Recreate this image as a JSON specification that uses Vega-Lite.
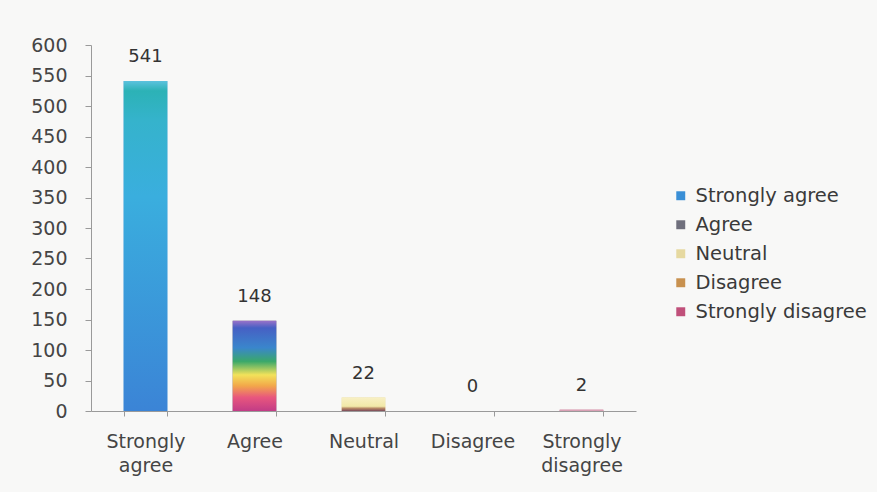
{
  "$schema": "https://vega.github.io/schema/vega-lite/v6.json",
  "width": 545,
  "height": 366,
  "autosize": {"type": "none"},
  "padding": {"left": 91, "top": 45, "right": 241, "bottom": 81},
  "background": "#f8f8f7",
  "config": {
    "view": {"stroke": null},
    "font": "DejaVu Sans",
    "axis": {"labelFont": "DejaVu Sans", "labelColor": "#454545", "labelFontSize": 19, "domainColor": "#9a9a9a", "tickColor": "#9a9a9a", "grid": false, "title": null},
    "legend": {"labelFont": "DejaVu Sans", "labelColor": "#3a3a3a", "labelFontSize": 19.5, "labelLimit": 300}
  },
  "data": {
    "values": [
      {"response": "Strongly agree", "count": 541},
      {"response": "Agree", "count": 148},
      {"response": "Neutral", "count": 22},
      {"response": "Disagree", "count": 0},
      {"response": "Strongly disagree", "count": 2}
    ]
  },
  "encoding": {
    "x": {
      "field": "response",
      "type": "nominal",
      "sort": null,
      "scale": {"paddingInner": 0.6, "paddingOuter": 0.3},
      "axis": {"labelAngle": 0, "labelExpr": "split(datum.label, ' ')", "labelLineHeight": 24, "labelPadding": 16, "tickBand": "extent", "tickSize": 5, "labelBaseline": "top"}
    },
    "y": {
      "field": "count",
      "type": "quantitative",
      "scale": {"domain": [0, 600]},
      "axis": {"values": [0, 50, 100, 150, 200, 250, 300, 350, 400, 450, 500, 550, 600], "tickSize": 6, "labelPadding": 18}
    }
  },
  "layer": [
    {
      "mark": {"type": "bar"},
      "encoding": {
        "color": {
          "field": "response",
          "type": "nominal",
          "sort": null,
          "scale": {"domain": ["Strongly agree", "Agree", "Neutral", "Disagree", "Strongly disagree"], "range": ["#3a8fd6", "#6f6f7c", "#e6d9a0", "#c8914f", "#c0507a"]},
          "legend": {"title": null, "orient": "none", "legendX": 580, "legendY": 141, "symbolType": "square", "symbolSize": 80, "symbolStrokeWidth": 0, "rowPadding": 8, "labelOffset": 5}
        }
      }
    },
    {
      "mark": {"type": "bar"},
      "encoding": {
        "fill": {
          "condition": [
            {"test": "datum.response === 'Strongly agree'", "value": {"gradient": "linear", "x1": 0, "y1": 0, "x2": 0, "y2": 1, "stops": [{"offset": 0, "color": "#5cc2de"}, {"offset": 0.03, "color": "#2cb2b6"}, {"offset": 0.12, "color": "#35b3cc"}, {"offset": 0.35, "color": "#3aaede"}, {"offset": 1, "color": "#3b84d6"}]}},
            {"test": "datum.response === 'Agree'", "value": {"gradient": "linear", "x1": 0, "y1": 0, "x2": 0, "y2": 1, "stops": [{"offset": 0, "color": "#9a72c8"}, {"offset": 0.08, "color": "#4660c4"}, {"offset": 0.3, "color": "#3a86cc"}, {"offset": 0.45, "color": "#3aa86a"}, {"offset": 0.6, "color": "#f2e25a"}, {"offset": 0.72, "color": "#f2a84a"}, {"offset": 0.85, "color": "#e8567e"}, {"offset": 1, "color": "#c23c86"}]}},
            {"test": "datum.response === 'Neutral'", "value": {"gradient": "linear", "x1": 0, "y1": 0, "x2": 0, "y2": 1, "stops": [{"offset": 0, "color": "#f8f0c4"}, {"offset": 0.65, "color": "#f1e8a8"}, {"offset": 0.8, "color": "#b88a66"}, {"offset": 1, "color": "#7c4a5a"}]}},
            {"test": "datum.response === 'Strongly disagree'", "value": "#d9a0b4"}
          ],
          "value": "#c8914f"
        }
      }
    },
    {
      "mark": {"type": "text", "baseline": "middle", "dy": -24, "fontSize": 18, "color": "#333333", "font": "DejaVu Sans"},
      "encoding": {"text": {"field": "count", "type": "quantitative"}}
    }
  ]
}
